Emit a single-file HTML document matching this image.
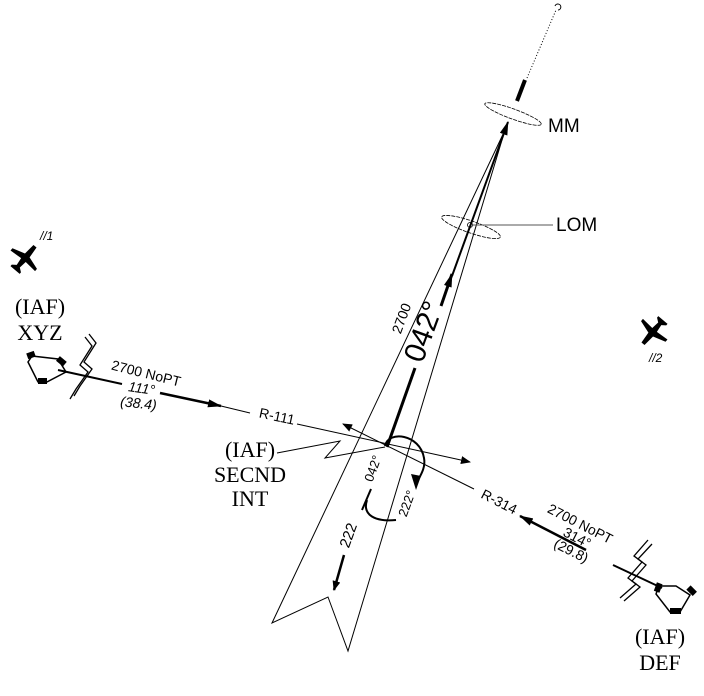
<!DOCTYPE html>
<html><head><style>
html,body{margin:0;padding:0;background:#fff;}
svg{display:block;}
text{font-family:"Liberation Sans",sans-serif;fill:#000;}
.s{font-family:"Liberation Serif",serif;}
</style></head><body>
<svg width="704" height="696" viewBox="0 0 704 696" xmlns="http://www.w3.org/2000/svg">
<defs>
<marker id="ah" markerWidth="10" markerHeight="8" refX="9" refY="4" orient="auto" markerUnits="userSpaceOnUse">
<path d="M0,0 L10,4 L0,8 Z" fill="#000"/></marker>
<marker id="ahs" markerWidth="14" markerHeight="8" refX="13" refY="4" orient="auto" markerUnits="userSpaceOnUse">
<path d="M0,0 L14,4 L0,8 Z" fill="#000"/></marker>
</defs>
<polyline points="505,130 272,623 328,597 348,651 505,130" fill="none" stroke="#000" stroke-width="1"/>
<line x1="527" y1="78" x2="556" y2="10" stroke="#000" stroke-width="1" stroke-dasharray="1,2"/>
<path d="M555,6 a3,3 0 1 1 3,4" fill="none" stroke="#000" stroke-width="1"/>
<line x1="525" y1="80" x2="517" y2="101" stroke="#000" stroke-width="4"/>
<ellipse cx="513" cy="114" rx="30" ry="5" transform="rotate(20 513 114)" fill="none" stroke="#000" stroke-width="0.8" stroke-dasharray="4,1"/>
<text x="548" y="132" font-size="19">MM</text>
<ellipse cx="471" cy="227" rx="31" ry="6" transform="rotate(19 471 227)" fill="none" stroke="#000" stroke-width="0.8" stroke-dasharray="4,1"/>
<circle cx="470" cy="225" r="2.5" fill="none" stroke="#000" stroke-width="0.8"/>
<line x1="472" y1="225" x2="553" y2="225" stroke="#555" stroke-width="1"/>
<text x="556" y="231" font-size="19">LOM</text>
<line x1="387" y1="447" x2="415" y2="368" stroke="#000" stroke-width="3"/>
<line x1="441" y1="306" x2="452" y2="274" stroke="#000" stroke-width="3" marker-end="url(#ahs)"/>
<line x1="452" y1="276" x2="508" y2="122" stroke="#000" stroke-width="2" marker-end="url(#ahs)"/>
<line x1="463" y1="246" x2="505" y2="130" stroke="#000" stroke-width="1"/>
<text transform="translate(433,335) rotate(-69.7)" font-size="30" text-anchor="middle">042°</text>
<text transform="translate(406,320) rotate(-69.7)" font-size="14" text-anchor="middle">2700</text>
<path d="M385,446 C388,430 420,434 424,458 C426,468 420,476 416,484" fill="none" stroke="#000" stroke-width="2"/>
<path d="M411,474 L416,490 L421,476 Z" fill="#000"/>
<line x1="371" y1="489" x2="362" y2="510" stroke="#000" stroke-width="2"/>
<path d="M367,500 C362,515 375,522 396,520" fill="none" stroke="#000" stroke-width="2"/>
<text transform="translate(377,470) rotate(-70)" font-size="13" text-anchor="middle">042°</text>
<text transform="translate(411,505) rotate(-70)" font-size="13" text-anchor="middle">222°</text>
<text transform="translate(353,537) rotate(-70)" font-size="15" text-anchor="middle">222</text>
<line x1="344" y1="555" x2="334" y2="590" stroke="#000" stroke-width="2.5" marker-end="url(#ah)"/>
<line x1="58" y1="370" x2="122" y2="384" stroke="#000" stroke-width="2"/>
<line x1="160" y1="393" x2="221" y2="406" stroke="#000" stroke-width="2.5" marker-end="url(#ahs)"/>
<line x1="221" y1="406" x2="250" y2="413" stroke="#000" stroke-width="1"/>
<line x1="297" y1="424" x2="470" y2="462" stroke="#000" stroke-width="1" marker-end="url(#ah)"/>
<text transform="translate(276,421) rotate(12)" font-size="14" text-anchor="middle">R-111</text>
<text transform="translate(145,378) rotate(14)" font-size="14" text-anchor="middle">2700 NoPT</text>
<text transform="translate(141,393) rotate(8)" font-size="14" text-anchor="middle" font-style="italic">111°</text>
<text transform="translate(138,408) rotate(6)" font-size="14" text-anchor="middle" font-style="italic">(38.4)</text>
<line x1="662" y1="588" x2="613" y2="565" stroke="#000" stroke-width="2"/>
<line x1="586" y1="550" x2="520" y2="516" stroke="#000" stroke-width="2.5" marker-end="url(#ahs)"/>
<line x1="474" y1="489" x2="343" y2="424" stroke="#000" stroke-width="1" marker-end="url(#ah)"/>
<text transform="translate(497,506) rotate(27)" font-size="14" text-anchor="middle">R-314</text>
<text transform="translate(578,528) rotate(27)" font-size="14" text-anchor="middle">2700 NoPT</text>
<text transform="translate(575,542) rotate(27)" font-size="14" text-anchor="middle">314°</text>
<text transform="translate(569,555) rotate(27)" font-size="14" text-anchor="middle">(29.8)</text>
<polyline points="277,453 340,441 325,458 385,447" fill="none" stroke="#000" stroke-width="1"/>
<text class="s" x="250" y="457" font-size="22" text-anchor="middle">(IAF)</text>
<text class="s" x="250" y="482" font-size="22" text-anchor="middle">SECND</text>
<text class="s" x="250" y="506" font-size="22" text-anchor="middle">INT</text>
<text class="s" x="40" y="314" font-size="22" text-anchor="middle">(IAF)</text>
<text class="s" x="40" y="340" font-size="22" text-anchor="middle">XYZ</text>
<text class="s" x="660" y="644" font-size="22" text-anchor="middle">(IAF)</text>
<text class="s" x="660" y="670" font-size="22" text-anchor="middle">DEF</text>
<polygon points="32,356 58,359 66,372 45,383 38,382 28,362" fill="none" stroke="#000" stroke-width="1.5"/>
<rect x="27" y="352" width="8" height="6" transform="rotate(-20 31 355)"/>
<rect x="57" y="358" width="9" height="6" transform="rotate(40 61 361)"/>
<rect x="38" y="378" width="9" height="6"/>
<polygon points="659,586 676,586 690,595 680,612 670,612 656,594" fill="none" stroke="#000" stroke-width="1.5"/>
<rect x="655" y="583" width="6" height="9" transform="rotate(20 658 588)"/>
<rect x="689" y="586" width="6" height="9" transform="rotate(-45 692 591)"/>
<rect x="670" y="608" width="11" height="6"/>
<g fill="none" stroke="#000" stroke-width="1.3">
<polyline points="85,337 92,346 80,365 88,372 76,389 70,399"/>
<polyline points="89,334 96,343 84,362 92,369 80,386 74,396"/>
<polyline points="648,540 634,556 642,562 628,578 636,584 620,598"/>
<polyline points="652,544 638,559 646,565 632,581 640,587 624,601"/>
</g>
<g transform="translate(26,257) rotate(40)">
<path d="M-2,-14 L2,-14 L3,-2 L16,2 L16,5 L3,4 L2,12 L6,15 L6,17 L-6,17 L-6,15 L-2,12 L-3,4 L-16,5 L-16,2 L-3,-2 Z" fill="#000"/>
</g>
<text x="40" y="240" font-size="12" font-style="italic">//1</text>
<g transform="translate(652,333) rotate(220)">
<path d="M-2,-14 L2,-14 L3,-2 L16,2 L16,5 L3,4 L2,12 L6,15 L6,17 L-6,17 L-6,15 L-2,12 L-3,4 L-16,5 L-16,2 L-3,-2 Z" fill="#000"/>
</g>
<text x="649" y="362" font-size="12" font-style="italic">//2</text>
</svg>
</body></html>
